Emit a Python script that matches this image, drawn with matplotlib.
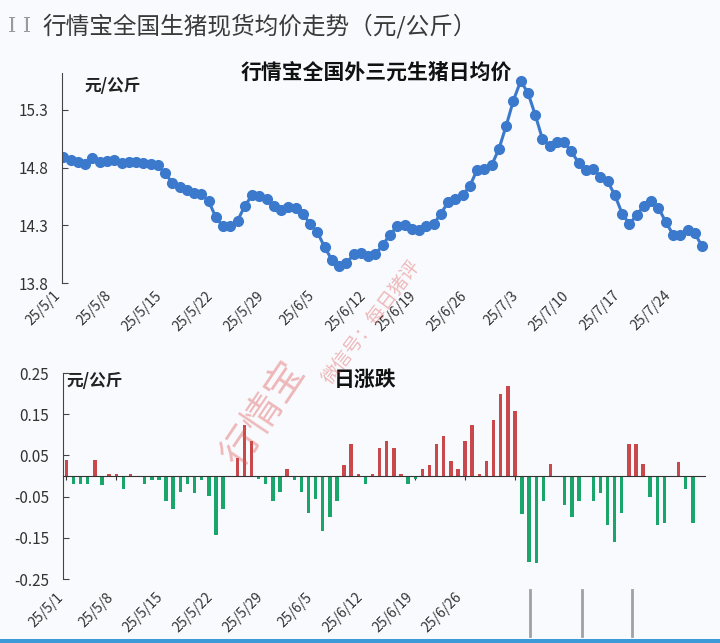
import numpy as np
import pandas as pd
import matplotlib as mpl
import matplotlib.pyplot as plt
from matplotlib.lines import Line2D
from matplotlib.patches import Rectangle

mpl.use('Agg')
plt.rcParams['font.family'] = ['Noto Sans CJK SC', 'DejaVu Sans']
plt.rcParams['axes.unicode_minus'] = False

# 日期：25/5/1 ~ 25/7/28
dates = pd.date_range('2025-05-01', '2025-07-28', freq='D')
date_labels = [f'{d.year % 100}/{d.month}/{d.day}' for d in dates]

# 外三元生猪日均价（元/公斤）
price = [14.89, 14.87, 14.85, 14.83, 14.88, 14.85, 14.86, 14.87, 14.84, 14.85,
         14.85, 14.84, 14.83, 14.82, 14.75, 14.67, 14.63, 14.61, 14.58, 14.57,
         14.51, 14.37, 14.29, 14.29, 14.34, 14.47, 14.56, 14.55, 14.53, 14.47,
         14.43, 14.46, 14.45, 14.40, 14.31, 14.24, 14.11, 14.00, 13.95, 13.97,
         14.05, 14.06, 14.03, 14.05, 14.13, 14.22, 14.29, 14.30, 14.27, 14.26,
         14.29, 14.31, 14.40, 14.50, 14.53, 14.56, 14.64, 14.78, 14.79, 14.82,
         14.96, 15.16, 15.38, 15.55, 15.45, 15.26, 15.05, 14.99, 15.02, 15.02,
         14.94, 14.84, 14.78, 14.79, 14.72, 14.68, 14.56, 14.40, 14.31, 14.39,
         14.47, 14.51, 14.45, 14.33, 14.22, 14.22, 14.26, 14.23, 14.12]

# 日涨跌
change = [0.038, -0.02, -0.02, -0.02, 0.038, -0.023, 0.006, 0.004, -0.032, 0.004,
          0.0, -0.02, -0.01, -0.01, -0.06, -0.08, -0.04, -0.02, -0.042, -0.01,
          -0.048, -0.143, -0.08, 0.0, 0.044, 0.125, 0.085, -0.008, -0.02, -0.06,
          -0.04, 0.018, -0.01, -0.04, -0.09, -0.056, -0.133, -0.10, -0.06, 0.027,
          0.077, 0.006, -0.02, 0.006, 0.067, 0.086, 0.067, 0.004, -0.02, -0.008,
          0.018, 0.027, 0.077, 0.097, 0.036, 0.018, 0.086, 0.125, 0.004, 0.036,
          0.137, 0.198, 0.218, 0.157, -0.093, -0.208, -0.21, -0.06, 0.028, 0.0,
          -0.07, -0.10, -0.06, 0.0, -0.06, -0.042, -0.12, -0.16, -0.09, 0.077,
          0.077, 0.028, -0.05, -0.12, -0.113, 0.0, 0.034, -0.032, -0.113]

price_ticks = [13.8, 14.3, 14.8, 15.3]
change_ticks = [-0.25, -0.15, -0.05, 0.05, 0.15, 0.25]

bg = '#f8fafd'
blue = '#3b79cc'
red = '#c9484b'
green = '#1aa66a'
txt = '#333333'

x = np.arange(len(dates))
week_pos = x[::7]
week_lab = [date_labels[i] for i in week_pos]

W, H = 720, 643
fig = plt.figure(figsize=(7.2, 6.43), dpi=100, facecolor=bg)

def box(l, t, r, b):
    return [l / W, 1 - b / H, (r - l) / W, (b - t) / H]

# ---------- 上图：日均价 ----------
ax1 = fig.add_axes(box(62, 73, 710, 283))
ax1.set_facecolor(bg)
ax1.plot(x, price, color=blue, lw=2.2, marker='o', ms=7, mec=blue, mfc=blue)
ax1.set_xlim(-0.2, 89.1)
ax1.set_ylim(13.8, 15.62)
ax1.set_yticks(price_ticks)
ax1.set_yticklabels([f'{v:.1f}' for v in price_ticks])
ax1.set_xticks(week_pos)
ax1.set_xticklabels(week_lab, rotation=45, ha='right')
for s in ['top', 'right', 'bottom']:
    ax1.spines[s].set_visible(False)
ax1.spines['left'].set_color('#444444')
ax1.tick_params(axis='y', direction='in', length=4, pad=10, labelsize=11,
                colors='#444444', labelcolor=txt)
ax1.tick_params(axis='x', length=0, pad=4, labelsize=10, labelcolor=txt)

# ---------- 下图：日涨跌 ----------
ax2 = fig.add_axes(box(63, 373, 705, 579))
ax2.set_facecolor(bg)
bar_colors = [red if v > 0 else green for v in change]
ax2.bar(x, change, width=0.48, color=bar_colors, zorder=2)
ax2.set_xlim(-0.48, 89.7)
ax2.set_ylim(-0.25, 0.25)
ax2.set_yticks(change_ticks)
ax2.set_yticklabels([f'{v:.2f}' for v in change_ticks])
for s in ['top', 'right']:
    ax2.spines[s].set_visible(False)
ax2.spines['bottom'].set_position(('data', 0))
ax2.spines['bottom'].set_color('#333333')
ax2.spines['bottom'].set_zorder(3)
ax2.spines['left'].set_color('#444444')
ax2.set_xticks(week_pos)
ax2.tick_params(axis='x', direction='out', length=3, labelbottom=False, colors='#333333')
ax2.tick_params(axis='y', direction='in', length=4, pad=10, labelsize=11,
                colors='#444444', labelcolor=txt)

sec = ax2.secondary_xaxis('bottom')
sec.set_xticks(week_pos[:9])
sec.set_xticklabels(week_lab[:9], rotation=45, ha='right')
sec.spines['bottom'].set_visible(False)
sec.tick_params(length=0, pad=8, labelsize=10, labelcolor=txt)

# ---------- 文字 ----------
fig.text(8 / W, 1 - 26 / H, 'I I', family='DejaVu Serif', fontsize=15,
         color='#9a9a9a', va='center')
fig.text(42 / W, 1 - 26 / H, '行情宝全国生猪现货均价走势（元/公斤）', fontsize=17,
         color='#3a3a3a', va='center')
fig.text(376 / W, 1 - 72 / H, '行情宝全国外三元生猪日均价', fontsize=15,
         fontweight='bold', color='#111111', ha='center', va='center')
fig.text(84 / W, 1 - 86 / H, '元/公斤', fontsize=12, fontweight='bold',
         color='#222222', va='center')
fig.text(365 / W, 1 - 379 / H, '日涨跌', fontsize=15, fontweight='bold',
         color='#111111', ha='center', va='center')
fig.text(66 / W, 1 - 381 / H, '元/公斤', fontsize=12, fontweight='bold',
         color='#222222', va='center')

# 水印
fig.text(264 / W, 1 - 414 / H, '行情宝', fontsize=28, rotation=56,
         color='#e05555', alpha=0.4, ha='center', va='center')
fig.text(372 / W, 1 - 322 / H, '微信号：每日猪评', fontsize=13.5, rotation=53,
         color='#e05555', alpha=0.4, ha='center', va='center')

# 底部截图痕迹
for gx in [530, 582, 632]:
    fig.add_artist(Line2D([gx / W, gx / W], [1 - 590 / H, 1 - 636 / H],
                          color='#8a8a92', lw=2, alpha=0.8))
fig.add_artist(Rectangle((0, 0), 1, 4 / H, transform=fig.transFigure,
                         color='#3d9ad8', lw=0))

fig.savefig('out.png', dpi=100, facecolor=bg)
